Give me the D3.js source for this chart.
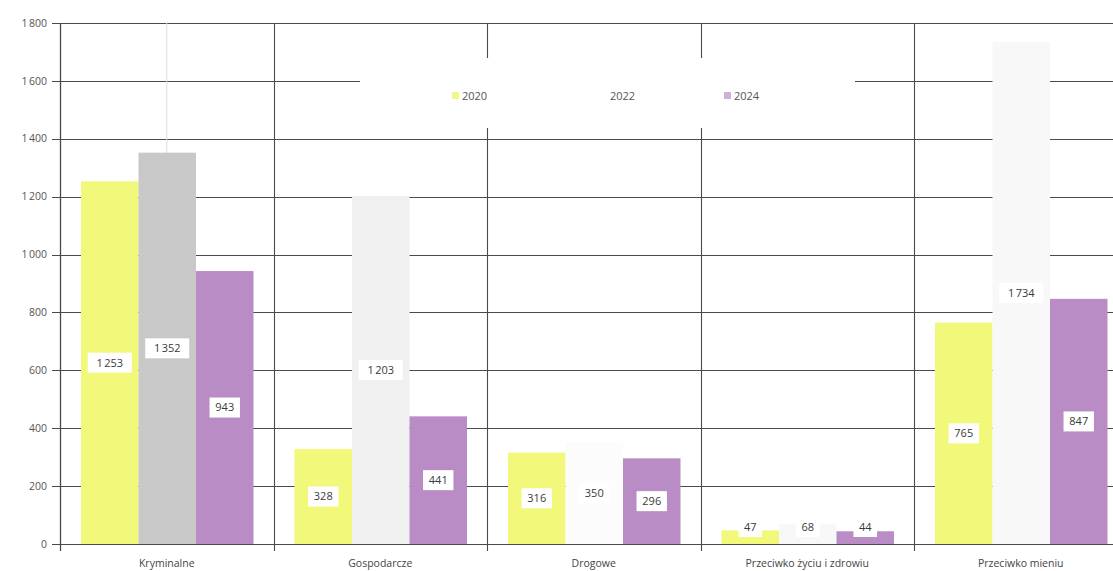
<!DOCTYPE html>
<html>
<head>
<meta charset="utf-8">
<script src="https://cdn.jsdelivr.net/npm/d3@7"></script>
<style>
  html, body { margin: 0; padding: 0; background: #fff; }
  svg { display: block; font-family: "Open Sans", "DejaVu Sans", sans-serif; }
</style>
</head>
<body>
<svg id="chart" width="1113" height="571"></svg>
<script>
const categories = ["Kryminalne", "Gospodarcze", "Drogowe", "Przeciwko życiu i zdrowiu", "Przeciwko mieniu"];
const seriesNames = ["2020", "2022", "2024"];
const values2020 = [1253, 328, 316, 47, 765];
const values2022 = [1352, 1203, 350, 68, 1734];
const values2024 = [943, 441, 296, 44, 847];
const yTicks = [0, 200, 400, 600, 800, 1000, 1200, 1400, 1600, 1800];

const seriesValues = [values2020, values2022, values2024];
const seriesColors = ["#f2f87a", "#f9f9f9", "#b98cc5"];
const colors2022 = ["#c8c8c8", "#f0f0f0", "#fcfcfc", "#f8f8f8", "#f8f8f8"];
const legendColors = ["#eef98a", "#ffffff", "#cfb0d6"];
const fmt = v => d3.format(",")(v).replace(/,/g, "\u202f");

const svg = d3.select("#chart");
const mLeft = 60, mRight = 1127.5, mTop = 23, mBottom = 544;

const x = d3.scaleBand().domain(categories).range([mLeft, mRight]).padding(0);
const bw = x.bandwidth();
const xs = d3.scaleBand().domain(seriesNames).range([21, bw - 20]).padding(0);
const y = d3.scaleLinear().domain([0, 1800]).range([mBottom, mTop]);

// horizontal gridlines
svg.append("g").selectAll("line").data(yTicks).join("line")
  .attr("x1", mLeft - 8).attr("x2", mRight)
  .attr("y1", d => Math.round(y(d)) + 0.5).attr("y2", d => Math.round(y(d)) + 0.5)
  .attr("stroke", "#4a4a4a").attr("stroke-width", 1.1);

// vertical category boundaries
const bounds = categories.map(c => x(c)).concat([mRight]);
svg.append("g").selectAll("line").data(bounds).join("line")
  .attr("x1", d => Math.round(d) + 0.5).attr("x2", d => Math.round(d) + 0.5)
  .attr("y1", mTop).attr("y2", mBottom + 7)
  .attr("stroke", "#4a4a4a").attr("stroke-width", 1.1);

// faint center line
svg.append("line")
  .attr("x1", x(categories[0]) + bw / 2).attr("x2", x(categories[0]) + bw / 2)
  .attr("y1", mTop).attr("y2", mBottom)
  .attr("stroke", "#dcdcdc").attr("stroke-width", 1);

// legend box covering gridlines
svg.append("rect").attr("x", 360).attr("y", 58).attr("width", 495).attr("height", 70).attr("fill", "#fff");

// bars
const barData = [];
categories.forEach((c, i) => seriesNames.forEach((s, j) => {
  barData.push({ c, s, j, i, v: seriesValues[j][i] });
}));
svg.append("g").selectAll("rect").data(barData).join("rect")
  .attr("x", d => x(d.c) + xs(d.s))
  .attr("width", xs.bandwidth())
  .attr("y", d => y(d.v))
  .attr("height", d => y(0) - y(d.v))
  .attr("fill", d => d.j === 1 ? colors2022[d.i] : seriesColors[d.j]);

// axis baseline over bars
svg.append("line").attr("x1", mLeft - 8).attr("x2", mRight)
  .attr("y1", Math.round(y(0)) + 0.5).attr("y2", Math.round(y(0)) + 0.5)
  .attr("stroke", "#4a4a4a").attr("stroke-width", 1.2);
svg.append("line").attr("x1", mLeft + 0.5).attr("x2", mLeft + 0.5)
  .attr("y1", mTop).attr("y2", mBottom + 7)
  .attr("stroke", "#4a4a4a").attr("stroke-width", 1.2);

// data labels
const lbl = svg.append("g").selectAll("g").data(barData).join("g")
  .attr("transform", d => {
    const cx = x(d.c) + xs(d.s) + xs.bandwidth() / 2;
    const cy = Math.min((y(d.v) + y(0)) / 2, y(0) - 17);
    return `translate(${cx},${cy})`;
  });
lbl.append("rect")
  .attr("x", d => -(fmt(d.v).length * 3.4 + 5))
  .attr("width", d => fmt(d.v).length * 6.8 + 10)
  .attr("y", -10).attr("height", 20)
  .attr("fill", "#fff");
lbl.append("text")
  .attr("text-anchor", "middle").attr("dy", "0.35em")
  .attr("font-size", 11).attr("fill", "#3a3a3a")
  .text(d => fmt(d.v));

// y tick labels
svg.append("g").selectAll("text").data(yTicks).join("text")
  .attr("x", 47).attr("y", d => y(d)).attr("dy", "0.35em")
  .attr("text-anchor", "end").attr("font-size", 10.5).attr("fill", "#555")
  .text(d => fmt(d));

// category labels
svg.append("g").selectAll("text").data(categories).join("text")
  .attr("x", d => x(d) + bw / 2).attr("y", 563).attr("dy", "0.35em")
  .attr("text-anchor", "middle").attr("font-size", 10.5).attr("fill", "#444")
  .text(d => d);

// legend
const legendX = [452, 600, 724];
const lg = svg.append("g").selectAll("g").data(seriesNames).join("g")
  .attr("transform", (d, i) => `translate(${legendX[i]},96)`);
lg.append("rect").attr("x", 0).attr("y", -4).attr("width", 7).attr("height", 7)
  .attr("fill", (d, i) => legendColors[i]);
lg.append("text").attr("x", 10).attr("dy", "0.35em").attr("font-size", 11).attr("fill", "#555")
  .text(d => d);
</script>
</body>
</html>
